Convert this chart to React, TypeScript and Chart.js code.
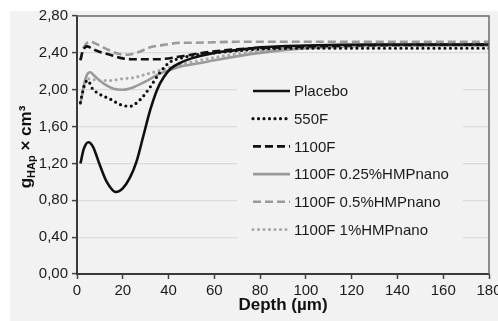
import React, { useEffect, useRef } from "react";
import { Chart, registerables } from "chart.js";

Chart.register(...registerables);

const seriesNames = [
  "Placebo",
  "550F",
  "1100F",
  "1100F 0.25%HMPnano",
  "1100F 0.5%HMPnano",
  "1100F 1%HMPnano",
];

const placeboX = [1.5, 3, 5, 7, 10, 13, 17, 20, 23, 26, 29, 32, 35, 38, 41, 45, 50, 60, 70, 80, 100, 130, 180];
const placeboY = [1.2, 1.36, 1.43, 1.38, 1.18, 1.0, 0.89, 0.93, 1.04, 1.22, 1.5, 1.78, 2.0, 2.14, 2.23, 2.29, 2.34, 2.4, 2.43, 2.46, 2.48, 2.49, 2.49];

const f550X = [1.5, 2.5, 3.5, 4.8, 6.5, 10, 14.4, 18.8, 23, 27.5, 32, 36, 40.6, 45, 50, 60, 80, 100, 140, 180];
const f550Y = [1.86, 1.98, 2.07, 2.1, 2.02, 1.95, 1.9, 1.84, 1.82, 1.89, 2.03, 2.18, 2.3, 2.34, 2.37, 2.4, 2.44, 2.45, 2.45, 2.45];

const f1100X = [1.5, 2.5, 3.5, 4.5, 7, 10, 14.4, 20, 25, 35, 45, 55, 70, 90, 120, 180];
const f1100Y = [2.32, 2.42, 2.46, 2.47, 2.44, 2.41, 2.38, 2.34, 2.33, 2.33, 2.36, 2.4, 2.44, 2.46, 2.48, 2.49];

const hmp025X = [1.5, 2.5, 3.5, 4.5, 5.7, 8, 12, 16, 20, 25, 30, 35, 40, 45, 54, 60, 80, 100, 120, 140, 180];
const hmp025Y = [1.85, 1.98, 2.1, 2.17, 2.19, 2.14, 2.06, 2.01, 2.0, 2.03, 2.09, 2.16, 2.21, 2.25, 2.29, 2.32, 2.4, 2.45, 2.47, 2.48, 2.48];

const hmp05X = [1.5, 2.5, 3.5, 4.5, 5.7, 9, 13, 18, 22, 27, 32, 39, 45, 50, 70, 100, 180];
const hmp05Y = [2.32, 2.43, 2.48, 2.51, 2.52, 2.49, 2.44, 2.39, 2.38, 2.41, 2.46, 2.49, 2.51, 2.51, 2.52, 2.52, 2.52];

const hmp1X = [1.5, 2.5, 3.5, 4.5, 7, 10, 14.4, 20, 24.5, 32, 39, 45, 50, 60, 80, 100, 120, 180];
const hmp1Y = [1.85, 1.97, 2.07, 2.12, 2.11, 2.1, 2.1, 2.12, 2.13, 2.18, 2.23, 2.27, 2.3, 2.35, 2.42, 2.46, 2.48, 2.48];

const yTicks = [0, 0.4, 0.8, 1.2, 1.6, 2.0, 2.4, 2.8];
const xTicks = [0, 20, 40, 60, 80, 100, 120, 140, 160, 180];

const FONT = "'Liberation Sans', Arial, sans-serif";

const toPts = (xs: number[], ys: number[]) => xs.map((x, i) => ({ x, y: ys[i] }));

const styles = [
  { color: "#111111", dash: [] as number[], width: 2.6, cap: "butt" },
  { color: "#111111", dash: [0, 5.5], width: 3.2, cap: "round" },
  { color: "#111111", dash: [8, 4], width: 2.6, cap: "butt" },
  { color: "#9a9a9a", dash: [] as number[], width: 2.6, cap: "butt" },
  { color: "#9a9a9a", dash: [8, 4], width: 2.6, cap: "butt" },
  { color: "#a8a8a8", dash: [0, 5.5], width: 3.2, cap: "round" },
];

const bgPlugin = {
  id: "bg",
  beforeDraw(chart: any) {
    const { ctx, width, height } = chart;
    ctx.save();
    ctx.fillStyle = "#ffffff";
    ctx.fillRect(0, 0, width, height);
    ctx.fillStyle = "#f2f2f2";
    ctx.fillRect(10, 11, width - 10, height - 11);
    ctx.restore();
  },
  afterDatasetsDraw(chart: any) {
    const { ctx, chartArea } = chart;
    ctx.save();
    // legend box
    ctx.fillStyle = "#f2f2f2";
    ctx.fillRect(237, 76, 226, 168);
    const ds = chart.data.datasets;
    const rowY0 = 91;
    const rowStep = 27.7;
    ds.forEach((d: any, i: number) => {
      const y = rowY0 + i * rowStep;
      const s = styles[i];
      ctx.beginPath();
      ctx.strokeStyle = s.color;
      ctx.lineWidth = s.width;
      ctx.lineCap = s.cap;
      ctx.setLineDash(s.dash);
      ctx.moveTo(253, y);
      ctx.lineTo(290, y);
      ctx.stroke();
      ctx.setLineDash([]);
      ctx.fillStyle = "#1a1a1a";
      ctx.font = `15px ${FONT}`;
      ctx.textBaseline = "middle";
      ctx.textAlign = "left";
      ctx.fillText(d.label, 294, y + 1);
    });
    // top and right frame
    ctx.strokeStyle = "#6e6e6e";
    ctx.lineWidth = 1.5;
    ctx.lineCap = "butt";
    ctx.beginPath();
    ctx.moveTo(chartArea.left, chartArea.top);
    ctx.lineTo(chartArea.right, chartArea.top);
    ctx.lineTo(chartArea.right, chartArea.bottom);
    ctx.stroke();
    ctx.restore();
  },
  afterDraw(chart: any) {
    const { ctx, chartArea } = chart;
    ctx.save();
    ctx.fillStyle = "#111111";
    // x title
    ctx.font = `bold 17px ${FONT}`;
    ctx.textAlign = "center";
    ctx.textBaseline = "alphabetic";
    ctx.fillText("Depth (µm)", (chartArea.left + chartArea.right) / 2, 310);
    // y title rotated with subscript
    ctx.translate(31, 147);
    ctx.rotate(-Math.PI / 2);
    ctx.textAlign = "left";
    const big = `bold 17px ${FONT}`;
    const small = `bold 11px ${FONT}`;
    ctx.font = big;
    const w1 = ctx.measureText("g").width;
    const w3 = ctx.measureText(" × cm³").width;
    ctx.font = small;
    const w2 = ctx.measureText("HAp").width;
    const total = w1 + w2 + w3;
    let x = -total / 2;
    ctx.font = big;
    ctx.fillText("g", x, 0);
    x += w1;
    ctx.font = small;
    ctx.fillText("HAp", x, 4);
    x += w2;
    ctx.font = big;
    ctx.fillText(" × cm³", x, 0);
    ctx.restore();
  },
};

export default function App() {
  const ref = useRef<HTMLCanvasElement>(null);
  useEffect(() => {
    if (!ref.current) return;
    const all = [
      toPts(placeboX, placeboY),
      toPts(f550X, f550Y),
      toPts(f1100X, f1100Y),
      toPts(hmp025X, hmp025Y),
      toPts(hmp05X, hmp05Y),
      toPts(hmp1X, hmp1Y),
    ];
    const chart = new Chart(ref.current, {
      type: "line",
      data: {
        datasets: all.map((pts, i) => ({
          label: seriesNames[i],
          data: pts,
          borderColor: styles[i].color,
          borderWidth: styles[i].width,
          borderDash: styles[i].dash,
          borderCapStyle: styles[i].cap as any,
          pointRadius: 0,
          fill: false,
          cubicInterpolationMode: "monotone" as const,
        })),
      },
      options: {
        animation: false,
        responsive: false,
        devicePixelRatio: 1,
        layout: { padding: { top: 16, right: 9, left: 0, bottom: 0 } },
        plugins: { legend: { display: false }, tooltip: { enabled: false } },
        scales: {
          x: {
            type: "linear",
            min: 0,
            max: 180,
            afterBuildTicks: (scale: any) => {
              scale.ticks = xTicks.map((v) => ({ value: v }));
            },
            afterFit: (scale: any) => {
              scale.height = 47;
              scale.paddingLeft = 0;
              scale.paddingRight = 0;
            },
            ticks: {
              color: "#1a1a1a",
              font: { family: FONT, size: 15 },
              padding: 3,
              maxRotation: 0,
              autoSkip: false,
            },
            grid: {
              drawOnChartArea: false,
              drawTicks: true,
              tickLength: 5,
              tickColor: "#444444",
              tickWidth: 1.5,
            },
            border: { color: "#3a3a3a", width: 2 },
          },
          y: {
            min: 0,
            max: 2.8,
            afterBuildTicks: (scale: any) => {
              scale.ticks = yTicks.map((v) => ({ value: v }));
            },
            afterFit: (scale: any) => {
              scale.width = 77;
              scale.paddingTop = 0;
              scale.paddingBottom = 0;
            },
            ticks: {
              color: "#1a1a1a",
              font: { family: FONT, size: 15 },
              padding: 4,
              callback: (v: any) => Number(v).toFixed(2).replace(".", ","),
            },
            grid: {
              color: "#dcdcdc",
              lineWidth: 1.2,
              drawTicks: true,
              tickLength: 5,
              tickColor: "#444444",
              tickWidth: 1.5,
            },
            border: { color: "#3a3a3a", width: 2 },
          },
        },
      },
      plugins: [bgPlugin],
    });
    return () => chart.destroy();
  }, []);
  return (
    <div style={{ position: "fixed", left: 0, top: 0, width: 498, height: 321 }}>
      <canvas ref={ref} width={498} height={321} style={{ width: 498, height: 321, display: "block" }} />
    </div>
  );
}
